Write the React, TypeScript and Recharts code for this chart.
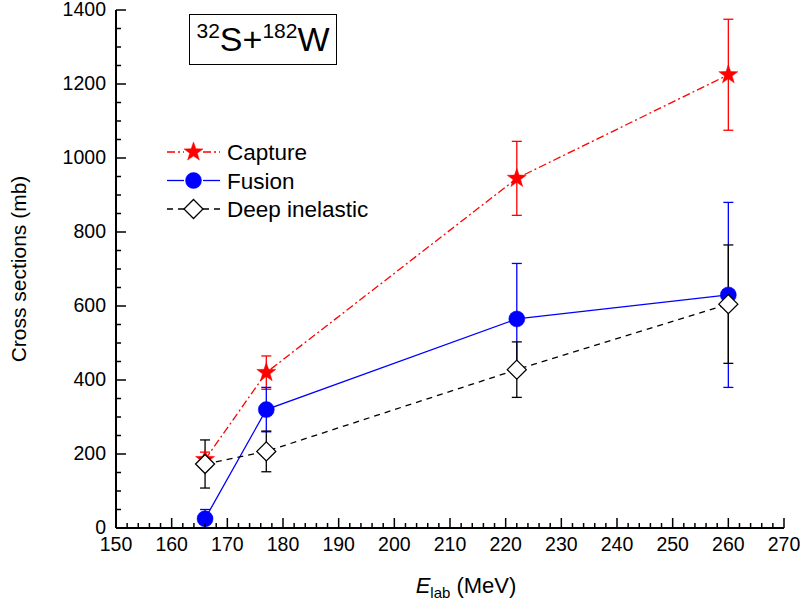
import React from 'react';
import { LineChart, Line, XAxis, YAxis, ErrorBar, Legend, Label } from 'recharts';

// Beam energies (MeV) and measured cross sections (mb) with uncertainties
const energies = [166, 177, 222, 260];
const captureValues = [185, 420, 945, 1225];
const captureErrors = [20, 45, 100, 150];
const fusionValues = [25, 320, 565, 630];
const fusionErrors = [25, 60, 150, 250];
const deepInelasticValues = [173, 207, 428, 605];
const deepInelasticErrors = [65, 55, 75, 160];

// Axis ticks
const xMajorTicks = [150, 160, 170, 180, 190, 200, 210, 220, 230, 240, 250, 260, 270];
const yMajorTicks = [0, 200, 400, 600, 800, 1000, 1200, 1400];
const xMinorStep = 2;
const yMinorStep = 50;

const FONT = '"Liberation Sans", Arial, Helvetica, sans-serif';

const stepTicks = (majors: number[], step: number) => {
  const out: number[] = [];
  const lo = majors[0];
  const hi = majors[majors.length - 1];
  for (let v = lo; v <= hi + 1e-9; v += step) out.push(Math.round(v * 1000) / 1000);
  return out;
};
const xTicks = stepTicks(xMajorTicks, xMinorStep);
const yTicks = stepTicks(yMajorTicks, yMinorStep);

const toRows = (vals: number[], errs: number[]) =>
  energies.map((x, i) => ({ x, y: vals[i], err: errs[i] }));

const captureData = toRows(captureValues, captureErrors);
const fusionData = toRows(fusionValues, fusionErrors);
const deepInelasticData = toRows(deepInelasticValues, deepInelasticErrors);

const starPath = (cx: number, cy: number, R: number, r: number) => {
  const pts: string[] = [];
  for (let k = 0; k < 10; k++) {
    const rad = k % 2 === 0 ? R : r;
    const a = -Math.PI / 2 + (k * Math.PI) / 5;
    pts.push(`${(cx + rad * Math.cos(a)).toFixed(2)},${(cy + rad * Math.sin(a)).toFixed(2)}`);
  }
  return `M${pts.join('L')}Z`;
};

const StarMark = ({ cx, cy }: { cx: number; cy: number }) => (
  <path d={starPath(cx, cy, 10, 4)} fill="#ff0000" stroke="#ff0000" strokeWidth={0.5} />
);
const CircleMark = ({ cx, cy }: { cx: number; cy: number }) => (
  <circle cx={cx} cy={cy} r={8} fill="#0000ff" stroke="#0000ff" strokeWidth={0.5} />
);
const DiamondMark = ({ cx, cy }: { cx: number; cy: number }) => (
  <path
    d={`M${cx},${cy - 9.5}L${cx + 9.5},${cy}L${cx},${cy + 9.5}L${cx - 9.5},${cy}Z`}
    fill="#ffffff"
    stroke="#000000"
    strokeWidth={1.3}
  />
);

const XTick = (props: any) => {
  const { x, y, payload } = props;
  const v = payload.value as number;
  const major = xMajorTicks.includes(v);
  return (
    <g>
      <line x1={x} x2={x} y1={y} y2={y - (major ? 10 : 5)} stroke="#000" strokeWidth={1.5} />
      {major && (
        <text x={x} y={y + 23} textAnchor="middle" fontSize={19.5} fontFamily={FONT} fill="#000">
          {v}
        </text>
      )}
    </g>
  );
};

const YTick = (props: any) => {
  const { x, y, payload } = props;
  const v = payload.value as number;
  const major = yMajorTicks.includes(v);
  return (
    <g>
      <line x1={x} x2={x + (major ? 10 : 5)} y1={y} y2={y} stroke="#000" strokeWidth={1.5} />
      {major && (
        <text x={x - 10} y={y + 5.5} textAnchor="end" fontSize={19.5} fontFamily={FONT} fill="#000">
          {v}
        </text>
      )}
    </g>
  );
};

const legendItems = [
  { name: 'Capture', color: '#ff0000', dash: '8 3 2 3', mark: 'star' },
  { name: 'Fusion', color: '#0000ff', dash: undefined, mark: 'circle' },
  { name: 'Deep inelastic', color: '#000000', dash: '6 5', mark: 'diamond' },
];

const LegendBox = () => (
  <svg width={220} height={90} style={{ display: 'block', overflow: 'visible' }}>
    {legendItems.map((it, i) => {
      const cy = 16 + i * 28.5;
      const cx = 33.5;
      return (
        <g key={it.name}>
          <line x1={7} x2={24} y1={cy} y2={cy} stroke={it.color} strokeWidth={1.3} strokeDasharray={it.dash} />
          <line x1={43} x2={60} y1={cy} y2={cy} stroke={it.color} strokeWidth={1.3} strokeDasharray={it.dash} />
          {it.mark === 'star' && <StarMark cx={cx} cy={cy} />}
          {it.mark === 'circle' && <CircleMark cx={cx} cy={cy} />}
          {it.mark === 'diamond' && <DiamondMark cx={cx} cy={cy} />}
          <text x={67} y={cy + 8} fontSize={22.5} fontFamily={FONT} fill="#000">
            {it.name}
          </text>
        </g>
      );
    })}
  </svg>
);

const XTitle = (props: any) => {
  const { x, y, width } = props.viewBox;
  return (
    <text x={x + width / 2 + 16} y={y + 65} textAnchor="middle" fontSize={22} fontFamily={FONT} fill="#000">
      <tspan fontStyle="italic">E</tspan>
      <tspan fontSize={15} dy={5}>lab</tspan>
      <tspan dy={-5}> (MeV)</tspan>
    </text>
  );
};

const YTitle = (props: any) => {
  const { y, height } = props.viewBox;
  const cx = 26;
  const cy = y + height / 2;
  return (
    <text
      x={cx}
      y={cy}
      transform={`rotate(-90 ${cx} ${cy})`}
      textAnchor="middle"
      fontSize={21}
      fontFamily={FONT}
      fill="#000"
    >
      Cross sections (mb)
    </text>
  );
};

export default function App() {
  return (
    <div style={{ position: 'absolute', left: 0, top: 0, width: 801, height: 606, background: '#fff' }}>
      <LineChart width={801} height={606} margin={{ top: 10, right: 17, bottom: 8, left: 16 }}>
        <XAxis
          dataKey="x"
          type="number"
          domain={[150, 270]}
          ticks={xTicks}
          interval={0}
          tickSize={0}
          tickMargin={0}
          tick={<XTick />}
          height={70}
          axisLine={{ stroke: '#000', strokeWidth: 2 }}
          allowDataOverflow
        >
          <Label content={<XTitle />} />
        </XAxis>
        <YAxis
          type="number"
          domain={[0, 1400]}
          ticks={yTicks}
          interval={0}
          tickSize={0}
          tickMargin={0}
          tick={<YTick />}
          width={100}
          axisLine={{ stroke: '#000', strokeWidth: 2 }}
          allowDataOverflow
        >
          <Label content={<YTitle />} />
        </YAxis>
        <Line
          data={captureData}
          dataKey="y"
          name="Capture"
          stroke="#ff0000"
          strokeWidth={1.3}
          strokeDasharray="8 3 2 3"
          isAnimationActive={false}
          dot={(p: any) => <StarMark key={`c${p.index}`} cx={p.cx} cy={p.cy} />}
          activeDot={false}
        >
          <ErrorBar dataKey="err" direction="y" width={5} stroke="#ff0000" strokeWidth={1.3} />
        </Line>
        <Line
          data={fusionData}
          dataKey="y"
          name="Fusion"
          stroke="#0000ff"
          strokeWidth={1.3}
          isAnimationActive={false}
          dot={(p: any) => <CircleMark key={`f${p.index}`} cx={p.cx} cy={p.cy} />}
          activeDot={false}
        >
          <ErrorBar dataKey="err" direction="y" width={5} stroke="#0000ff" strokeWidth={1.3} />
        </Line>
        <Line
          data={deepInelasticData}
          dataKey="y"
          name="Deep inelastic"
          stroke="#000000"
          strokeWidth={1.3}
          strokeDasharray="6 5"
          isAnimationActive={false}
          dot={(p: any) => <DiamondMark key={`d${p.index}`} cx={p.cx} cy={p.cy} />}
          activeDot={false}
        >
          <ErrorBar dataKey="err" direction="y" width={5} stroke="#000000" strokeWidth={1.3} />
        </Line>
        <Legend
          layout="vertical"
          align="center"
          verticalAlign="middle"
          content={<LegendBox />}
          wrapperStyle={{ position: 'absolute', left: 160, top: 136, width: 220, height: 90 }}
        />
      </LineChart>
      <div
        style={{
          position: 'absolute',
          left: 189,
          top: 14,
          width: 146,
          height: 49,
          border: '1px solid #000',
          fontFamily: FONT,
          fontSize: 34,
          lineHeight: '49px',
          textAlign: 'center',
          color: '#000',
          boxSizing: 'content-box',
          whiteSpace: 'nowrap',
        }}
      >
        <span style={{ fontSize: 21, verticalAlign: 'top', lineHeight: '32px' }}>32</span>S+
        <span style={{ fontSize: 21, verticalAlign: 'top', lineHeight: '32px' }}>182</span>W
      </div>
    </div>
  );
}
